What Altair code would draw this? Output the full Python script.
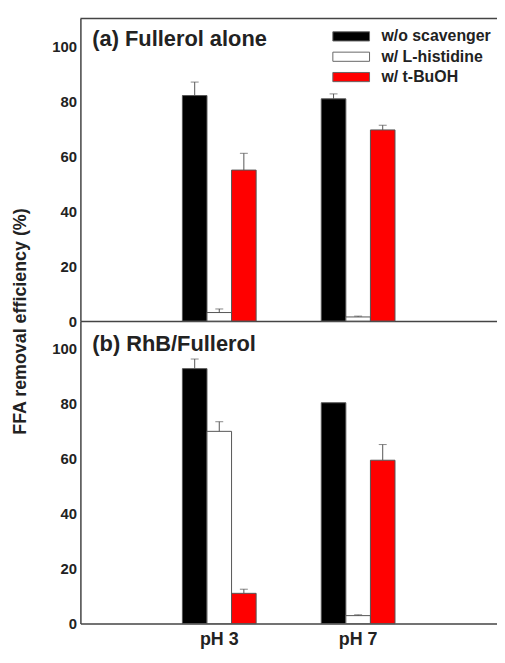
import altair as alt
import pandas as pd

ph = ["pH 3", "pH 7"]
series = ["w/o scavenger", "w/ L-histidine", "w/ t-BuOH"]
colors = ["#000000", "#ffffff", "#ff0000"]
a_vals = [82.0, 3.1, 54.9, 80.8, 1.5, 69.5]
a_errs = [4.9, 1.3, 6.1, 1.8, 0.3, 1.7]
b_vals = [92.7, 69.9, 11.0, 80.3, 2.9, 59.4]
b_errs = [3.5, 3.5, 1.5, 0.0, 0.3, 5.7]
panel_titles = ["(a)  Fullerol  alone", "(b)  RhB/Fullerol"]
y_ticks = [0, 20, 40, 60, 80, 100]
y_title = "FFA removal efficiency (%)"
y_max = 110

W = 420
H = 305
FONT = "Liberation Sans"
AX = "#444444"
TXT = "#222222"


def frame(vals, errs):
    rows = []
    i = 0
    for p in ph:
        for s in series:
            rows.append({"ph": p, "series": s, "value": vals[i],
                         "top": vals[i] + errs[i], "err": errs[i]})
            i += 1
    return pd.DataFrame(rows)


xscale = alt.Scale(domain=ph, paddingOuter=0.7345, paddingInner=0.469)


def panel(df, title, first):
    x = alt.X("ph:N", sort=ph, scale=xscale,
              axis=alt.Axis(labels=not first, ticks=False, domainColor=AX,
                            domainWidth=1.5, labelFont=FONT, labelFontSize=18,
                            labelFontWeight="bold", labelPadding=7, labelAngle=0,
                            labelColor=TXT, title=None))
    xo = alt.XOffset("series:N", sort=series,
                     scale=alt.Scale(domain=series, paddingInner=0, paddingOuter=0))
    yscale = alt.Scale(domain=[0, y_max], nice=False, zero=True)
    if first:
        yaxis = alt.Axis(values=y_ticks, ticks=False, domainColor=AX, domainWidth=1.5,
                         labelFont=FONT, labelFontSize=15, labelFontWeight="bold",
                         labelColor=TXT, labelPadding=4, grid=False,
                         title=y_title, titleFont=FONT, titleFontSize=18,
                         titleFontWeight="bold", titleColor=TXT, titleX=-60,
                         titleY=H, titleAngle=270, titleAlign="center",
                         titleBaseline="middle")
    else:
        yaxis = alt.Axis(values=y_ticks, ticks=False, domainColor=AX, domainWidth=1.5,
                         labelFont=FONT, labelFontSize=15, labelFontWeight="bold",
                         labelColor=TXT, labelPadding=4, grid=False, title=None)
    legend = alt.Legend(orient="none", legendX=263, legendY=8, title=None,
                        symbolType="M-2,-0.5H2V0.5H-2Z", symbolSize=342,
                        symbolStrokeColor="#666666", symbolStrokeWidth=1,
                        symbolOpacity=1, labelFont=FONT, labelFontSize=16,
                        labelFontWeight="bold", labelColor=TXT, labelOffset=20.5,
                        rowPadding=2.5, padding=0)
    bars = alt.Chart(df).mark_bar(stroke="#555555", strokeWidth=1, opacity=1).encode(
        x=x, xOffset=xo,
        y=alt.Y("value:Q", scale=yscale, axis=yaxis),
        color=alt.Color("series:N", scale=alt.Scale(domain=series, range=colors),
                        legend=legend if first else None),
    )
    err = alt.Chart(df).transform_filter("datum.err > 0").mark_rule(
        color="#555555", strokeWidth=1).encode(
        x=x, xOffset=xo,
        y=alt.Y("value:Q", scale=yscale),
        y2="top:Q",
    )
    cap = alt.Chart(df).transform_filter("datum.err > 0").mark_tick(
        color="#555555", orient="horizontal", size=8, thickness=1).encode(
        x=x, xOffset=xo,
        y=alt.Y("top:Q", scale=yscale),
    )
    label = alt.Chart(pd.DataFrame({"t": [title]})).mark_text(
        align="left", baseline="alphabetic", font=FONT, fontSize=22,
        fontWeight="bold", color=TXT).encode(
        text="t:N", x=alt.value(12), y=alt.value(28 if first else 30))
    layers = [bars, err, cap, label]
    if first:
        border = alt.Chart(pd.DataFrame({"a": [0]})).mark_rect(
            color=AX, opacity=1).encode(
            x=alt.value(0), x2=alt.value(W),
            y=alt.value(-0.75), y2=alt.value(0.75))
        layers.append(border)
    return alt.layer(*layers).properties(width=W, height=H)


top = panel(frame(a_vals, a_errs), panel_titles[0], True)
bottom = panel(frame(b_vals, b_errs), panel_titles[1], False)

chart = alt.vconcat(top, bottom, spacing=0, bounds="flush").resolve_legend(
    color="independent").properties(
    padding={"left": 4, "top": 7, "right": 0, "bottom": 0},
    background="white",
).configure_view(strokeWidth=0, stroke="transparent")

chart.save("out.html", embed_options={"renderer": "svg", "actions": False})
